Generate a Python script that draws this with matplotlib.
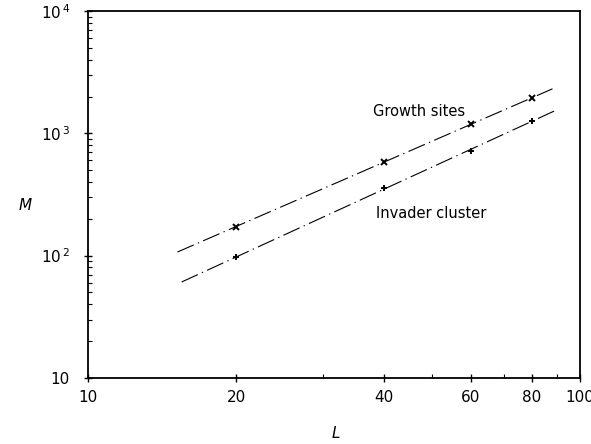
import numpy as np
import matplotlib
matplotlib.use('Agg')
import matplotlib.pyplot as plt
from matplotlib.ticker import FixedLocator, FixedFormatter, NullFormatter

# data
L = [20, 40, 60, 80]
growth_sites = [172, 587, 1190, 1940]
invader_cluster = [97, 356, 722, 1270]

# L range covered by the fitted lines
growth_fit_range = [15.2, 88.0]
invader_fit_range = [15.5, 90.0]

x_ticks = [10, 20, 40, 60, 80, 100]
x_labels = ['10', '20', '40', '60', '80', '100']
y_ticks = [10, 100, 1000, 10000]
y_labels = ['10', '$10^{\\,2}$', '$10^{\\,3}$', '$10^{\\,4}$']

plt.rcParams['font.family'] = ['DejaVu Sans']
plt.rcParams['mathtext.fontset'] = 'dejavusans'

fig = plt.figure(figsize=(5.91, 4.44), dpi=100)
ax = fig.add_axes([0.149, 0.149, 0.832, 0.826])

dash = (0, (16, 4, 1.2, 4))
for vals, mk, rng in [(growth_sites, 'x', growth_fit_range),
                      (invader_cluster, '+', invader_fit_range)]:
    p = np.polyfit(np.log10(L), np.log10(vals), 1)
    xs = np.array(rng)
    ax.plot(xs, 10 ** np.polyval(p, np.log10(xs)), color='black', lw=0.8, linestyle=dash)
    ax.plot(L, vals, linestyle='none', marker=mk, color='black', markersize=4.5, mew=1.4)

ax.set_xscale('log')
ax.set_yscale('log')
ax.set_xlim(10, 100)
ax.set_ylim(10, 10000)

ax.xaxis.set_major_locator(FixedLocator(x_ticks))
ax.xaxis.set_major_formatter(FixedFormatter(x_labels))
ax.xaxis.set_minor_locator(FixedLocator([30, 50, 70, 90]))
ax.xaxis.set_minor_formatter(NullFormatter())
ax.yaxis.set_major_locator(FixedLocator(y_ticks))
ax.yaxis.set_major_formatter(FixedFormatter(y_labels))
ax.yaxis.set_minor_locator(FixedLocator([m * d for d in [10, 100, 1000] for m in range(2, 10)]))
ax.yaxis.set_minor_formatter(NullFormatter())

ax.tick_params(which='major', direction='inout', length=6, width=1, labelsize=11, pad=6)
ax.tick_params(which='minor', direction='in', length=3, width=0.8)
ax.tick_params(axis='y', which='major', pad=10)
for s in ax.spines.values():
    s.set_linewidth(1.3)

ax.text(37.9, 1500, 'Growth sites', fontsize=10.5, va='center')
ax.text(38.5, 223, 'Invader cluster', fontsize=10.5, va='center')

fig.text(336 / 591, 1 - 433 / 444, 'L', style='italic', fontsize=11, ha='center', va='center')
fig.text(25 / 591, 1 - 205 / 444, 'M', style='italic', fontsize=11, ha='center', va='center')

fig.savefig('out.png', dpi=100)
